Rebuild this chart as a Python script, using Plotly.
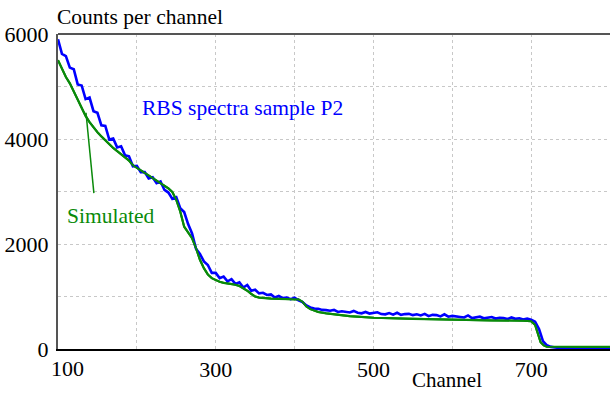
import plotly.graph_objects as go

# ---- data ----
blue_channels = list(range(100, 805, 5))
blue_counts = [
    5900, 5620, 5580, 5360, 5330, 5040, 5020, 4760, 4790, 4530,   # 100-145
    4500, 4260, 4250, 3990, 4010, 3840, 3860, 3690, 3670, 3480,   # 150-195
    3490, 3370, 3370, 3250, 3270, 3160, 3190, 3030, 2980, 2860,   # 200-245
    2890, 2680, 2610, 2380, 2200, 1910, 1810, 1670, 1600, 1450,   # 250-295
    1450, 1350, 1380, 1290, 1330, 1240, 1270, 1170, 1220, 1110,   # 300-345
    1130, 1060, 1070, 1030, 1040, 980, 1010, 970, 980, 950,       # 350-395
    975, 925, 895, 830, 790, 770, 765, 745, 740, 730,             # 400-445
    745, 705, 720, 710, 695, 725, 690, 680, 705, 675,             # 450-495
    690, 700, 665, 660, 685, 655, 690, 650, 665, 670,             # 500-545
    645, 660, 640, 670, 625, 650, 645, 620, 660, 615,             # 550-595
    630, 625, 610, 600, 640, 590, 605, 615, 585, 600,             # 600-645
    610, 580, 595, 590, 570, 600, 575, 585, 560, 580,             # 650-695
    560, 520, 380, 150, 70, 40, 25, 20, 22, 18,                   # 700-745
    20, 17, 19, 16, 18, 15, 17, 15, 16, 14,                       # 750-795
    15,                                                           # 800
]

green_channels = [100, 105, 110, 115, 120, 125, 130, 135, 140, 145, 150, 155, 160,
                  165, 170, 175, 180, 185, 190, 195, 200, 205, 210, 215, 220, 225,
                  230, 235, 240, 245, 250, 255, 260, 265, 270, 275, 280, 285, 290,
                  295, 300, 305, 310, 315, 320, 325, 330, 335, 340, 345, 350, 355,
                  360, 370, 380, 390, 400, 405, 410, 415, 420, 425, 430, 440, 450,
                  460, 470, 480, 500, 550, 600, 650, 690, 700, 705, 708, 712, 716,
                  720, 760, 800]
green_counts = [5500, 5330, 5180, 5060, 4900, 4750, 4570, 4440, 4320, 4220, 4130, 4050,
                3970, 3900, 3830, 3770, 3710, 3650, 3590, 3500, 3450, 3400, 3350, 3300,
                3250, 3210, 3160, 3110, 3060, 2990, 2840, 2620, 2330, 2220, 2110, 1920,
                1700, 1540, 1420, 1350, 1310, 1280, 1260, 1250, 1240, 1225, 1200, 1160,
                1110, 1050, 1000, 980, 970, 960, 955, 950, 950, 945, 900, 810, 760, 730,
                705, 680, 660, 640, 625, 615, 595, 575, 555, 545, 540, 530, 460, 300,
                130, 70, 45, 40, 40]

x_tick_vals = [300, 500, 700]
y_tick_vals = [0, 2000, 4000, 6000]

FONT = "Liberation Serif"
GREEN = "#0a8a0a"
BLUE = "#0000ff"

fig = go.Figure()
fig.add_trace(go.Scatter(x=green_channels, y=green_counts, mode="lines",
                         line=dict(color=GREEN, width=2.2), showlegend=False))
fig.add_trace(go.Scatter(x=blue_channels, y=blue_counts, mode="lines",
                         line=dict(color=BLUE, width=2.6), showlegend=False))
fig.add_trace(go.Scatter(x=green_channels, y=green_counts, mode="lines",
                         line=dict(color=GREEN, width=2.0), showlegend=False))

# pointer line from label to simulated curve
fig.add_shape(type="line", x0=135.5, y0=4500, x1=145.5, y1=2970,
              line=dict(color=GREEN, width=1.5))

grid = dict(showgrid=True, gridcolor="#c8c8c8", griddash="dot", gridwidth=1)

fig.update_layout(
    width=610, height=394,
    margin=dict(l=58, r=0, t=34, b=45),
    paper_bgcolor="white", plot_bgcolor="white",
    font=dict(family=FONT, size=21, color="black"),
    xaxis=dict(range=[100, 800], tickvals=x_tick_vals, ticks="", **grid,
               minor=dict(dtick=100, tick0=100, **grid),
               showline=True, linecolor="black", linewidth=2, zeroline=False,
               tickfont=dict(size=22, family=FONT)),
    yaxis=dict(range=[0, 6000], tickvals=y_tick_vals, ticks="", **grid,
               minor=dict(dtick=1000, tick0=0, **grid),
               showline=True, linecolor="#555555", linewidth=2, zeroline=False,
               tickfont=dict(size=22, family=FONT), ticklabelstandoff=3),
)

# top border
fig.add_shape(type="line", xref="paper", yref="paper", x0=0, x1=1, y0=1, y1=1,
              line=dict(color="#555555", width=2))

fig.add_annotation(text="Counts per channel", xref="paper", yref="paper", x=0, y=1,
                   xanchor="left", yanchor="bottom", xshift=-3, yshift=3, showarrow=False,
                   font=dict(size=21.5, family=FONT, color="black"))
fig.add_annotation(text="Channel", xref="paper", yref="paper", x=0.705, y=0,
                   xanchor="center", yanchor="bottom", yshift=-44, showarrow=False,
                   borderpad=0, font=dict(size=21, family=FONT, color="black"))
fig.add_annotation(text="100", xref="x", yref="paper", x=100, y=0,
                   xanchor="center", yanchor="top", xshift=9, yshift=-5, showarrow=False,
                   font=dict(size=22, family=FONT, color="black"))
fig.add_annotation(text="RBS spectra sample P2", xref="x", yref="y", x=204, y=4600,
                   xanchor="left", yanchor="middle", showarrow=False,
                   font=dict(size=21.5, family=FONT, color=BLUE))
fig.add_annotation(text="Simulated", xref="x", yref="y", x=109, y=2530,
                   xanchor="left", yanchor="middle", showarrow=False,
                   font=dict(size=21.5, family=FONT, color=GREEN))

fig.write_html("out.html")
